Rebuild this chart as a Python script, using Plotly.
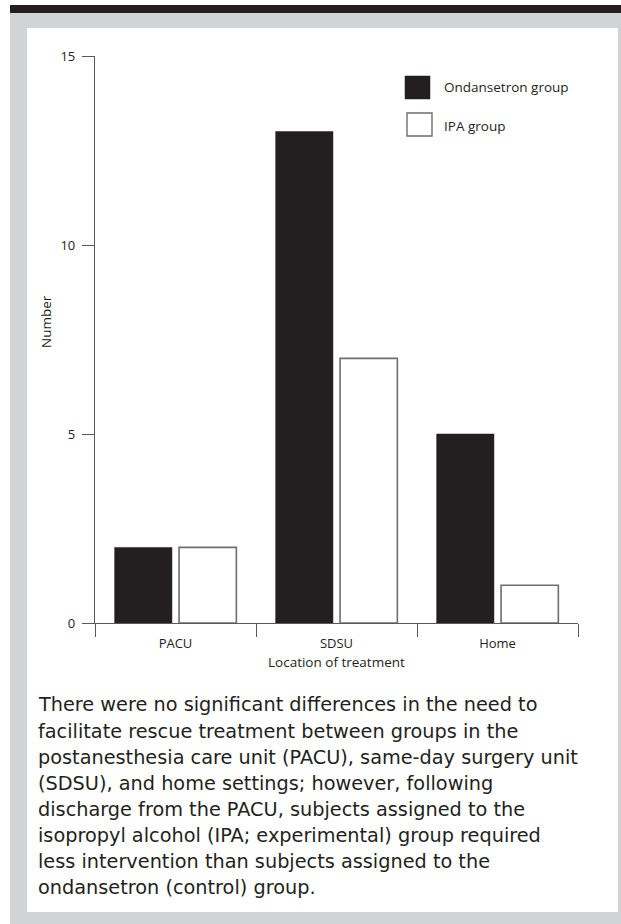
import plotly.graph_objects as go

# ---- data ----
categories = ["PACU", "SDSU", "Home"]
ondansetron = [2, 13, 5]
ipa = [2, 7, 1]
series_names = ["Ondansetron group", "IPA group"]
y_ticks = [0, 5, 10, 15]
x_title = "Location of treatment"
y_title = "Number"
caption_lines = [
    "There were no significant differences in the need to",
    "facilitate rescue treatment between groups in the",
    "postanesthesia care unit (PACU), same-day surgery unit",
    "(SDSU), and home settings; however, following",
    "discharge from the PACU, subjects assigned to the",
    "isopropyl alcohol (IPA; experimental) group required",
    "less intervention than subjects assigned to the",
    "ondansetron (control) group.",
]

# ---- layout geometry (pixels) ----
W, H = 621, 924
L, R, T, B = 95, 43, 56, 301
PW, PH = W - L - R, H - T - B

def px(x):
    return (x - L) / PW

def py(y):
    return (H - B - y) / PH

DARK = "#231f20"
GREY = "#d1d3d4"
AXIS = "#58595b"
FONT = "Open Sans"
CAP_FONT = "DejaVu Sans"

def f(size, family=FONT):
    return dict(family=family, size=size, color=DARK)

fig = go.Figure()
fig.add_trace(go.Bar(x=categories, y=ondansetron, name=series_names[0],
                     marker=dict(color=DARK, line=dict(color=DARK, width=0.5))))
fig.add_trace(go.Bar(x=categories, y=ipa, name=series_names[1],
                     marker=dict(color="white", line=dict(color="#6d6e71", width=1.6))))

shapes = [
    # grey frame
    dict(type="rect", xref="paper", yref="paper", x0=px(10), x1=px(621), y0=py(924), y1=py(5),
         fillcolor=GREY, line=dict(width=0), layer="below"),
    # dark top bar
    dict(type="rect", xref="paper", yref="paper", x0=px(10), x1=px(621), y0=py(13), y1=py(5),
         fillcolor=DARK, line=dict(width=0), layer="below"),
    # white panel
    dict(type="rect", xref="paper", yref="paper", x0=px(27), x1=px(618), y0=py(912), y1=py(28),
         fillcolor="white", line=dict(width=0), layer="below"),
    # legend keys
    dict(type="rect", xref="paper", yref="paper", x0=px(405), x1=px(430), y0=py(99), y1=py(76),
         fillcolor=DARK, line=dict(color=DARK, width=0.5)),
    dict(type="rect", xref="paper", yref="paper", x0=px(407), x1=px(432), y0=py(136), y1=py(113),
         fillcolor="white", line=dict(color="#6d6e71", width=1.4)),
]

annotations = [
    dict(text=series_names[0], xref="paper", yref="paper", x=px(442), y=py(87),
         xanchor="left", yanchor="middle", showarrow=False, font=f(13.5)),
    dict(text=series_names[1], xref="paper", yref="paper", x=px(442), y=py(126),
         xanchor="left", yanchor="middle", showarrow=False, font=f(13.5)),
    dict(text=y_title, xref="paper", yref="paper", x=px(46), y=py(322), textangle=-90,
         xanchor="center", yanchor="middle", showarrow=False, font=f(13.5)),
    dict(text=x_title, xref="paper", yref="paper", x=px(336), y=py(662),
         xanchor="center", yanchor="middle", showarrow=False, font=f(13.5)),
]
for i, line in enumerate(caption_lines):
    annotations.append(dict(text=line, xref="paper", yref="paper", x=px(36), y=py(705 + 26.1 * i),
                            xanchor="left", yanchor="middle", align="left", showarrow=False,
                            font=f(19.3, CAP_FONT)))

fig.update_layout(
    width=W, height=H, autosize=False,
    margin=dict(l=L, r=R, t=T, b=B, pad=0),
    paper_bgcolor="white", plot_bgcolor="rgba(0,0,0,0)",
    barmode="group", bargap=0.2, bargroupgap=0.11,
    showlegend=False,
    shapes=shapes, annotations=annotations,
    font=f(13),
    xaxis=dict(showgrid=False, zeroline=False, showline=True, linecolor=AXIS, linewidth=1.3,
               ticks="outside", tickson="boundaries", ticklen=13, tickwidth=1.3, tickcolor=AXIS,
               ticklabelstandoff=8, tickfont=f(13), range=[-0.5, 2.5]),
    yaxis=dict(showgrid=False, zeroline=False, showline=True, linecolor=AXIS, linewidth=1.3,
               ticks="outside", ticklen=12, tickwidth=1.3, tickcolor=AXIS,
               tickvals=y_ticks, range=[0, 15], ticklabelstandoff=4, tickfont=f(13)),
)

fig.write_html("out.html", config={"displayModeBar": False},
               post_script="document.body.style.margin='0px';document.body.style.overflow='hidden';")
